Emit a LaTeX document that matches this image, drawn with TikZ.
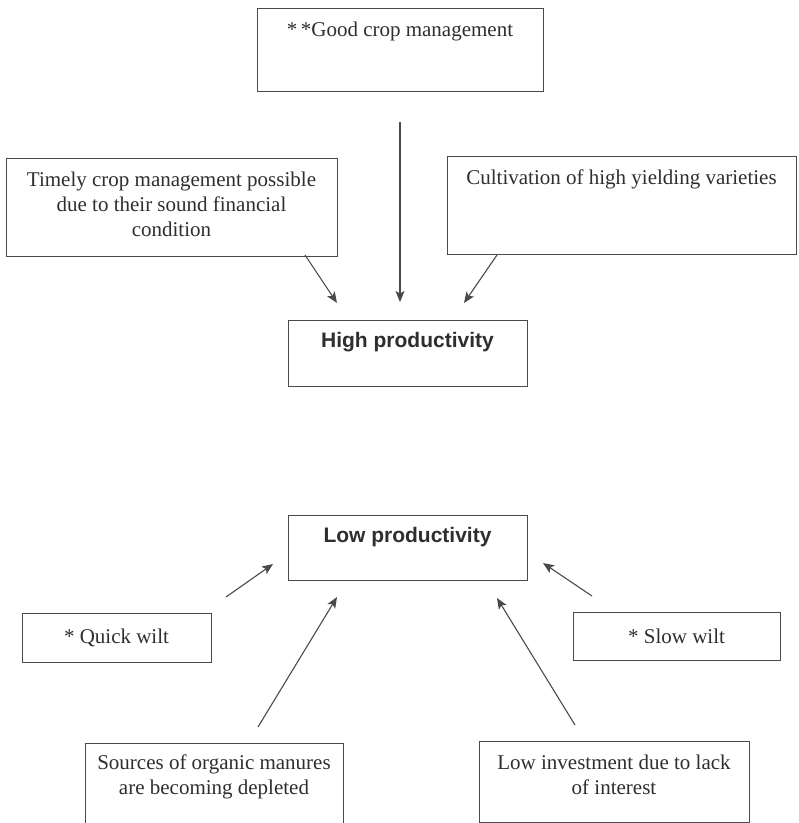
\documentclass[tikz,border=0pt]{standalone}
\usepackage{fontspec}
\setmainfont{Liberation Serif}
\newfontfamily\headfont{Liberation Sans}
\usetikzlibrary{arrows.meta}
\definecolor{inkline}{HTML}{4A4A4A}
\definecolor{inktext}{HTML}{2E2E2E}
\begin{document}
\begin{tikzpicture}[x=1pt,y=-1pt,
  box/.style={draw=inkline,line width=1pt,rectangle,inner sep=0pt},
  txt/.style={anchor=north,inner sep=0pt,align=center,text=inktext,
              font=\fontsize{21}{25}\selectfont},
  headtxt/.style={txt,font=\headfont\bfseries\fontsize{21}{25}\selectfont},
  link/.style={draw=inkline,line width=1.1pt,
               -{Stealth[length=11pt,width=9pt,inset=2.5pt]}}]
\useasboundingbox (0,0) rectangle (799,823);

% boxes: upper group
\node[box,minimum width=286pt,minimum height=83pt] (good)   at (400,49.5) {};
\node[box,minimum width=331pt,minimum height=98pt] (timely) at (171.5,207) {};
\node[box,minimum width=349pt,minimum height=98pt] (cultiv) at (621.5,205) {};
\node[box,minimum width=239pt,minimum height=66pt] (high)   at (407.5,353) {};

% boxes: lower group
\node[box,minimum width=239pt,minimum height=65pt] (low)     at (407.5,547.5) {};
\node[box,minimum width=189pt,minimum height=49pt] (quick)   at (116.5,637.5) {};
\node[box,minimum width=207pt,minimum height=48pt] (slow)    at (676.5,636) {};
\node[box,minimum width=258pt,minimum height=80pt] (sources) at (214,783) {};
\node[box,minimum width=270pt,minimum height=81pt] (invest)  at (614,782) {};

% texts
\node[txt]     (tgood)    at ([yshift=-14pt]good.north)    {*\,*Good crop management};
\node[txt]     (ttimely)  at ([yshift=-14pt]timely.north)  {Timely crop management possible\\due to their sound financial\\condition};
\node[txt]     (tcultiv)  at ([yshift=-14pt]cultiv.north)  {Cultivation of high yielding varieties};
\node[headtxt] (thigh)    at ([yshift=-13pt]high.north)    {High productivity};
\node[headtxt] (tlow)     at ([yshift=-13pt]low.north)     {Low productivity};
\node[txt,anchor=center] (tquick) at (quick.center) {* Quick wilt};
\node[txt,anchor=center] (tslow)  at (slow.center)  {* Slow wilt};
\node[txt]     (tsources) at ([yshift=-12pt]sources.north) {Sources of organic manures\\are becoming depleted};
\node[txt]     (tinvest)  at ([yshift=-14pt]invest.north)  {Low investment due to lack\\of interest};

% arrow end points (arrows stand free of the boxes)
\coordinate (g1) at (400,122);  \coordinate (g2) at (400,302);
\coordinate (t1) at (305,255);  \coordinate (t2) at (337,303);
\coordinate (c1) at (497,255);  \coordinate (c2) at (464,303);
\coordinate (q1) at (226,597);  \coordinate (q2) at (273,564);
\coordinate (s1) at (258,727);  \coordinate (s2) at (337,597);
\coordinate (w1) at (592,596);  \coordinate (w2) at (543,563);
\coordinate (i1) at (575,725);  \coordinate (i2) at (497,598);

\draw[link] (g1) -- (g2);
\draw[link] (t1) -- (t2);
\draw[link] (c1) -- (c2);
\draw[link] (q1) -- (q2);
\draw[link] (s1) -- (s2);
\draw[link] (w1) -- (w2);
\draw[link] (i1) -- (i2);
\end{tikzpicture}
\end{document}
